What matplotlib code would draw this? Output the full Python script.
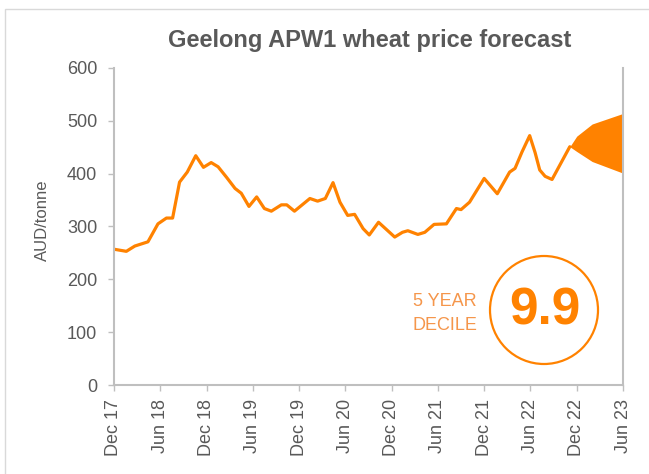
import matplotlib.pyplot as plt
from matplotlib.patches import Circle, Rectangle

plt.rcParams['font.family'] = ['Liberation Sans', 'DejaVu Sans']

# months since Dec 2017, price in AUD/tonne
months = [0.0, 1.6, 2.7, 4.4, 5.7, 6.8, 7.6, 8.5, 9.5, 10.6, 11.6, 12.6,
          13.5, 14.6, 15.7, 16.5, 17.5, 18.5, 19.5, 20.4, 21.7, 22.4, 23.4,
          25.4, 26.4, 27.4, 28.4, 29.3, 30.3, 31.2, 32.3, 33.1, 34.3, 36.4,
          37.4, 38.1, 39.4, 40.3, 41.5, 43.1, 44.4, 45.0, 46.1, 48.0, 49.7,
          51.3, 52.0, 52.9, 53.9, 54.6, 55.2, 55.9, 56.8, 59.1]
price = [257, 253, 263, 271, 305, 316, 316, 384, 403, 434, 412, 421,
         413, 393, 372, 363, 338, 356, 334, 329, 341, 341, 329,
         353, 348, 353, 383, 346, 321, 323, 296, 284, 308, 280,
         289, 292, 285, 289, 304, 305, 334, 332, 346, 391, 362,
         403, 410, 441, 472, 440, 407, 395, 389, 451]

fc_months = [59.1, 60.0, 62.0, 66.0]
fc_upper = [451, 471, 494, 514]
fc_lower = [451, 442, 423, 401]

tick_pos = [0, 6, 12, 18, 24, 30, 36, 42, 48, 54, 60, 66]
tick_labels = ['Dec 17', 'Jun 18', 'Dec 18', 'Jun 19', 'Dec 19', 'Jun 20',
               'Dec 20', 'Jun 21', 'Dec 21', 'Jun 22', 'Dec 22', 'Jun 23']

orange = '#FF8200'
grey = '#595959'
axis_grey = '#BFBFBF'

fig = plt.figure(figsize=(6.49, 4.74), dpi=100)
ax = fig.add_axes([114 / 649, 1 - 385 / 474, 509 / 649, 317 / 474])

ax.plot(months, price, color=orange, lw=2.3, solid_joinstyle='round',
        solid_capstyle='round')
ax.fill_between(fc_months, fc_lower, fc_upper, color=orange, lw=0)

ax.set_xlim(0, 66)
ax.set_ylim(0, 600)
ax.set_yticks(range(0, 601, 100))
ax.set_xticks(tick_pos)
ax.set_xticklabels(tick_labels, rotation=90)

for s in ['left', 'bottom', 'right']:
    ax.spines[s].set_color(axis_grey)
    ax.spines[s].set_linewidth(1.5)
ax.spines['top'].set_visible(False)
ax.tick_params(axis='both', direction='out', length=4, width=1,
               color=axis_grey, labelcolor=grey, labelsize=13)
ax.tick_params(axis='y', pad=8)
ax.tick_params(axis='x', pad=6)

ax.set_ylabel('AUD/tonne', color=grey, fontsize=12)
ax.yaxis.set_label_coords(-0.1415, 0.52)
ax.yaxis.label.set_va('center')

fig.text(370 / 649, 1 - 46.7 / 474, 'Geelong APW1 wheat price forecast',
         ha='center', va='baseline', fontsize=17, fontweight='bold', color=grey)

# decile badge
fig.add_artist(Circle((5.44, (474 - 310) / 100), 0.54, transform=fig.dpi_scale_trans,
                      fill=False, edgecolor=orange, lw=1.6))
fig.text(545 / 649, 1 - 311 / 474, '9.9', ha='center', va='center',
         fontsize=37, fontweight='bold', color=orange)
fig.text(477 / 649, 1 - 301 / 474, '5 YEAR', ha='right', va='center',
         fontsize=13, color='#F5964B')
fig.text(477 / 649, 1 - 325 / 474, 'DECILE', ha='right', va='center',
         fontsize=13, color='#F5964B')

# chart area border
fig.add_artist(Rectangle((5 / 649, -0.1), 1.2, 1.1 - 9 / 474, transform=fig.transFigure,
                         fill=False, edgecolor='#D9D9D9', lw=1))

fig.savefig('out.png', dpi=100)
